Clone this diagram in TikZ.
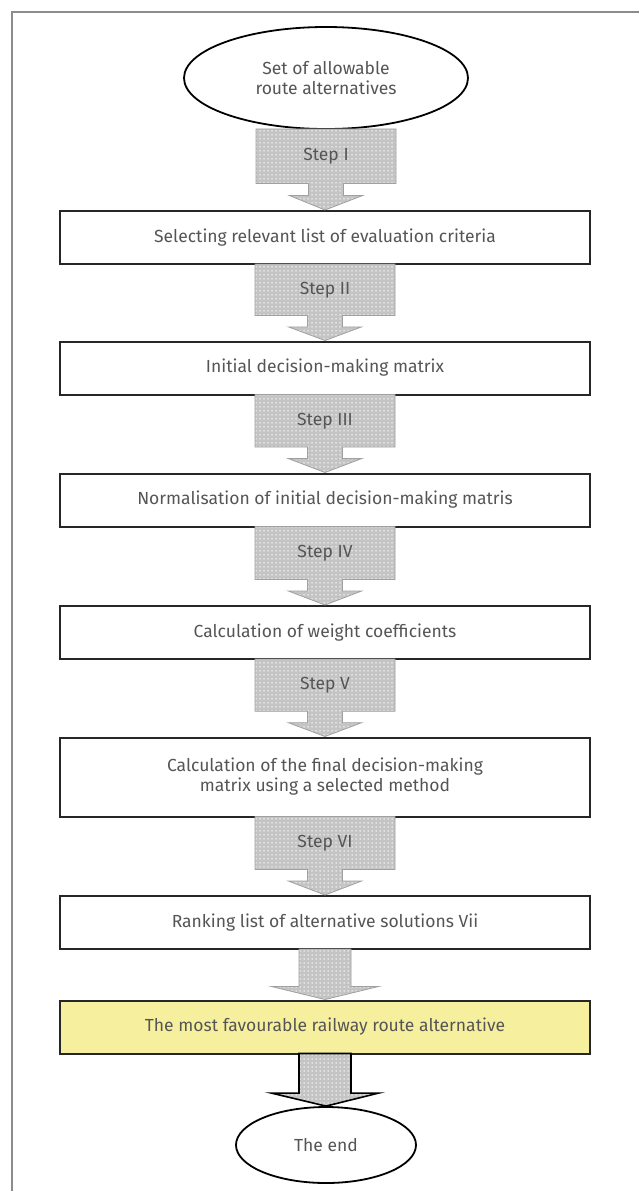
\documentclass[tikz,border=0pt]{standalone}
\usepackage{fontspec}
\setmainfont{Fira Sans}
\usetikzlibrary{shapes.geometric,patterns,calc}
\definecolor{txt}{HTML}{555555}
\definecolor{hilite}{HTML}{F6F09E}
\definecolor{arrowfill}{HTML}{C4C4C4}
\definecolor{arrowedge}{HTML}{A0A0A0}
\definecolor{framecol}{HTML}{8C8C8C}
\pgfdeclarepatternformonly{bigdots}{\pgfqpoint{-1pt}{-1pt}}{\pgfqpoint{1pt}{1pt}}{\pgfqpoint{4pt}{4pt}}{%
  \pgfpathcircle{\pgfqpoint{0pt}{0pt}}{0.75pt}\pgfusepath{fill}}
\tikzset{
  box/.style={draw=black!85, line width=2pt, fill=white, minimum width=530pt,
    minimum height=53pt, inner sep=0pt, align=center, text=txt},
  startend/.style={ellipse, draw=black, line width=1.8pt, fill=white,
    align=center, inner sep=0pt, text=txt},
  steplabel/.style={text=txt, inner sep=0pt},
  arrowshape/.style={fill=arrowfill, postaction={pattern=bigdots, pattern color=white},
    postaction={draw=arrowedge, line width=0.8pt}},
  darkarrow/.style={fill=arrowfill, postaction={pattern=bigdots, pattern color=white},
    postaction={draw=black, line width=1.6pt}},
}
\newcommand\steparrow[4]{%
  \path[arrowshape] let \p1=(#1.south), \p2=(#2.north), \n1={\y1-\y2} in
    (\x1-70pt,\y1+1pt) -- (\x1+70pt,\y1+1pt) -- (\x1+70pt,\y1-0.67*\n1)
    -- (\x1+17.5pt,\y1-0.67*\n1) -- (\x1+17.5pt,\y1-0.82*\n1)
    -- (\x1+36.5pt,\y1-0.82*\n1) -- (\x2,\y2) -- (\x1-36.5pt,\y1-0.82*\n1)
    -- (\x1-17.5pt,\y1-0.82*\n1) -- (\x1-17.5pt,\y1-0.67*\n1)
    -- (\x1-70pt,\y1-0.67*\n1) -- cycle;
  \path let \p1=(#1.south), \p2=(#2.north), \n1={\y1-\y2} in
    node[steplabel] (#3) at (\x1,\y1-0.33*\n1) {#4};
}
\newcommand\plainarrow[3]{%
  \path[#3] let \p1=(#1.south), \p2=(#2.north) in
    (\x1-26pt,\y1+1pt) -- (\x1+26pt,\y1+1pt) -- (\x1+26pt,\y2+13pt)
    -- (\x1+53.5pt,\y2+13pt) -- (\x2,\y2) -- (\x1-53.5pt,\y2+13pt)
    -- (\x1-26pt,\y2+13pt) -- cycle;
}
\begin{document}
\begin{tikzpicture}[x=1pt,y=-1pt,font=\fontsize{17.5}{20}\selectfont]
\useasboundingbox (0,0) rectangle (639,1191);
\draw[framecol, line width=2pt] (639,12) -- (12,12) -- (12,1191);

\node[startend, minimum width=284pt, minimum height=102pt] (start) at (326,78)
  {Set of allowable\\route alternatives};
\node[box] (b1) at (325,237.5) {Selecting relevant list of evaluation criteria};
\node[box] (b2) at (325,368) {Initial decision-making matrix};
\node[box] (b3) at (325,500) {Normalisation of initial decision-making matris};
\node[box] (b4) at (325,632.5) {Calculation of weight coefficients};
\node[box, minimum height=79pt] (b5) at (325,777)
  {Calculation of the final decision-making\\matrix using a selected method};
\node[box] (b6) at (325,922.5) {Ranking list of alternative solutions Vii};
\node[box, fill=hilite] (b7) at (325,1027) {The most favourable railway route alternative};
\node[startend, minimum width=180pt, minimum height=76pt] (end) at (326,1145) {The end};

\steparrow{start}{b1}{s1}{Step I}
\steparrow{b1}{b2}{s2}{Step II}
\steparrow{b2}{b3}{s3}{Step III}
\steparrow{b3}{b4}{s4}{Step IV}
\steparrow{b4}{b5}{s5}{Step V}
\steparrow{b5}{b6}{s6}{Step VI}
\plainarrow{b6}{b7}{arrowshape}
\plainarrow{b7}{end}{darkarrow}
\end{tikzpicture}
\end{document}
